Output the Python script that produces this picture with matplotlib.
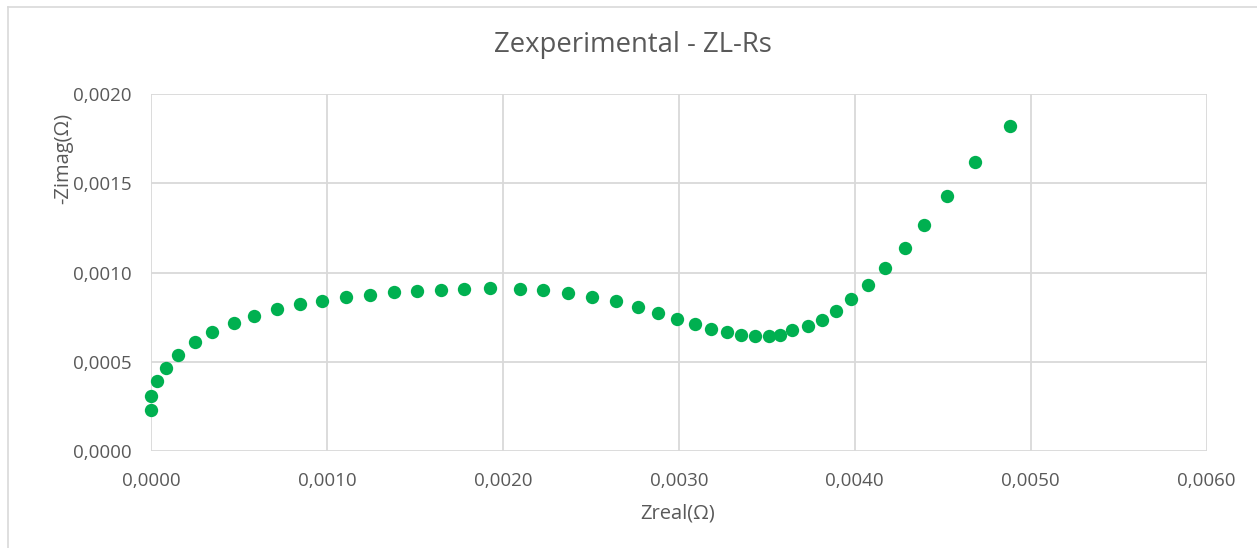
import matplotlib
matplotlib.use("Agg")
import matplotlib.pyplot as plt
from matplotlib.ticker import FuncFormatter, MultipleLocator
from matplotlib.lines import Line2D

plt.rcParams['font.family'] = ['Open Sans', 'DejaVu Sans']

# Nyquist data: real part and negative imaginary part of the impedance (ohm)
z_real = [
    0.0000, 0.0000, 0.0000324, 0.0000837, 0.000155, 0.000250, 0.000349, 0.000472,
    0.000586, 0.000715, 0.000844, 0.000972, 0.001110, 0.001242, 0.001379, 0.001512,
    0.001651, 0.001781, 0.001929, 0.002100, 0.002227, 0.002369, 0.002508, 0.002641,
    0.002770, 0.002882, 0.002992, 0.003092, 0.003182, 0.003273, 0.003352, 0.003434,
    0.003510, 0.003574, 0.003641, 0.003732, 0.003812, 0.003893, 0.003978, 0.004073,
    0.004172, 0.004284, 0.004394, 0.004523, 0.004682, 0.004883,
]
z_imag_neg = [
    0.000230, 0.000308, 0.000392, 0.000467, 0.000538, 0.000609, 0.000665, 0.000715,
    0.000758, 0.000794, 0.000822, 0.000842, 0.000861, 0.000874, 0.000889, 0.000896,
    0.000904, 0.000906, 0.000911, 0.000909, 0.000900, 0.000885, 0.000861, 0.000839,
    0.000807, 0.000773, 0.000741, 0.000710, 0.000685, 0.000665, 0.000650, 0.000644,
    0.000644, 0.000650, 0.000678, 0.000703, 0.000734, 0.000786, 0.000850, 0.000928,
    0.001024, 0.001136, 0.001268, 0.001430, 0.001617, 0.001821,
]

title = "Zexperimental - ZL-Rs"
x_label = "Zreal(\u03a9)"
y_label = "-Zimag(\u03a9)"

TEXT = "#595959"
GRID = "#D9D9D9"
GREEN = "#00B050"

W, H = 1257, 548
fig = plt.figure(figsize=(W / 100, H / 100), dpi=100)
fig.patch.set_facecolor("white")

# chart frame (top and left edges)
fig.add_artist(Line2D([8 / W, 8 / W], [0, 1 - 7 / H], transform=fig.transFigure, color=GRID, lw=1.2))
fig.add_artist(Line2D([8 / W, 1], [1 - 7 / H, 1 - 7 / H], transform=fig.transFigure, color=GRID, lw=1.2))

left, right = 151 / W, 1206.7 / W
bottom, top = (H - 451) / H, (H - 94) / H
ax = fig.add_axes([left, bottom, right - left, top - bottom])

ax.plot(z_real, z_imag_neg, linestyle="none", marker="o", markersize=9.6,
        markerfacecolor=GREEN, markeredgecolor=GREEN, markeredgewidth=0, zorder=3, clip_on=False)

ax.set_xlim(0, 0.006)
ax.set_ylim(0, 0.002)
ax.xaxis.set_major_locator(MultipleLocator(0.001))
ax.yaxis.set_major_locator(MultipleLocator(0.0005))
fmt = FuncFormatter(lambda v, p: f"{v:.4f}".replace(".", ","))
ax.xaxis.set_major_formatter(fmt)
ax.yaxis.set_major_formatter(fmt)

ax.grid(True, color=GRID, linewidth=1.3)
ax.set_axisbelow(True)
for s in ax.spines.values():
    s.set_visible(False)
ax.tick_params(axis="both", length=0, labelsize=13.5, labelcolor=TEXT)
ax.tick_params(axis="x", pad=15)
ax.tick_params(axis="y", pad=14)

fig.text(633 / W, 1 - 45 / H, title, ha="center", va="center", fontsize=19.8, color=TEXT)
fig.text(678 / W, 1 - 513 / H, x_label, ha="center", va="center", fontsize=14.5, color=TEXT)
fig.text(63 / W, 1 - 158 / H, y_label, ha="center", va="center", rotation=90, fontsize=14.5, color=TEXT)

fig.savefig("out.png", dpi=100, facecolor="white")
